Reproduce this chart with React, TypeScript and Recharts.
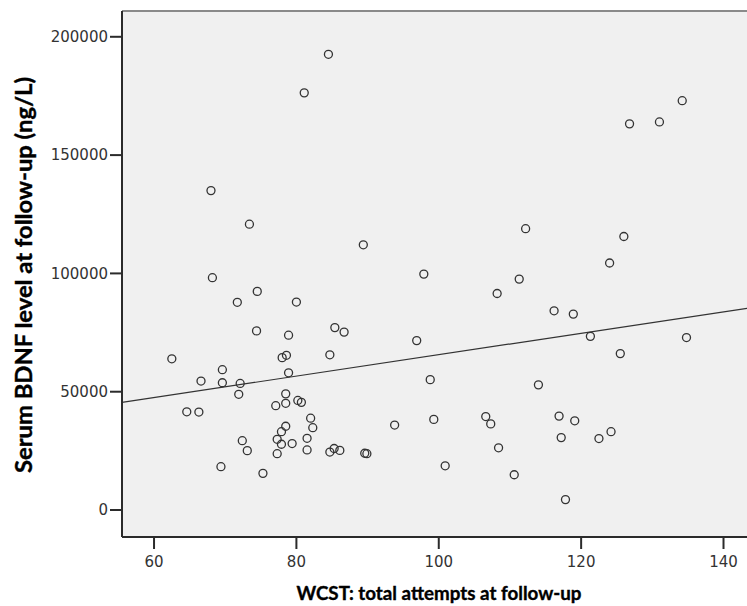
import React from 'react';
import {
  ScatterChart, Scatter, XAxis, YAxis, CartesianGrid, ReferenceLine, Label,
} from 'recharts';

// WCST total attempts at follow-up (x) and serum BDNF in ng/L (y), one entry per subject
const wcstAttempts = [
  84.5, 81.1, 134.2, 126.8, 131.0, 68.0, 73.4, 112.2, 126.0, 89.4,
  124.0, 68.2, 97.9, 111.3, 74.5, 108.2, 71.7, 80.0, 116.2, 118.9,
  74.4, 85.4, 86.7, 78.9, 96.9, 121.3, 134.8, 62.5, 84.7, 125.5,
  78.0, 78.6, 69.6, 78.9, 66.6, 69.6, 72.1, 98.8, 114.0, 71.9,
  78.5, 80.2, 80.7, 78.5, 77.1, 64.6, 66.3, 82.0, 106.6, 107.3,
  99.3, 116.9, 119.1, 93.8, 82.3, 78.5, 77.9, 124.2, 77.3, 72.4,
  81.5, 117.2, 122.5, 77.9, 79.4, 73.1, 81.5, 85.3, 86.1, 84.7,
  77.3, 89.6, 89.9, 108.4, 69.4, 100.9, 75.3, 110.6, 117.8,
];
const bdnfLevel = [
  192600, 176300, 173000, 163200, 164000, 135000, 120800, 118900, 115600, 112100,
  104400, 98200, 99700, 97600, 92400, 91500, 87800, 87900, 84200, 82800,
  75700, 77100, 75200, 73900, 71600, 73400, 72900, 63900, 65600, 66100,
  64400, 65400, 59300, 58000, 54500, 53800, 53500, 55100, 52900, 48900,
  49100, 46300, 45500, 45100, 44100, 41500, 41400, 38800, 39500, 36400,
  38300, 39700, 37700, 35900, 34800, 35400, 33100, 33100, 29900, 29300,
  30300, 30600, 30200, 27800, 28100, 25100, 25400, 26000, 25200, 24500,
  23800, 24000, 23800, 26300, 18300, 18700, 15500, 14900, 4400,
];

// fitted regression line, read at the two edges of the plot
const fitX = [55.5, 143.3];
const fitY = [45500, 85250];

const xTicks = [60, 80, 100, 120, 140];
const yTicks = [0, 50000, 100000, 150000, 200000];
const xDomain = [55.5, 143.3];
const yDomain = [-11400, 210900];

const points = wcstAttempts.map((x, i) => ({ x, y: bdnfLevel[i] }));

const axisColor = '#2b2b2b';
const tickFont = { fontFamily: '"DejaVu Sans", sans-serif', fontSize: 15, fill: '#333' };
const titleFont = '"Lato", "Noto Sans", sans-serif';

const OpenCircle = (props: any) => (
  <circle cx={props.cx} cy={props.cy} r={4} fill="none" stroke="#333" strokeWidth={1.3} />
);

export default function App() {
  return (
    <div style={{ position: 'absolute', left: 0, top: 0, width: 747, height: 606, background: '#fff' }}>
      <ScatterChart width={747} height={606} margin={{ top: 11, right: 0, bottom: 29, left: 0 }}>
        <CartesianGrid horizontal={false} vertical={false} fill="#f0f0f0" />
        <XAxis
          type="number"
          dataKey="x"
          domain={xDomain}
          ticks={xTicks}
          allowDataOverflow
          height={40}
          tickSize={12}
          tickMargin={7}
          axisLine={{ stroke: axisColor, strokeWidth: 2 }}
          tickLine={{ stroke: axisColor, strokeWidth: 2 }}
          tick={tickFont}
        >
          <Label
            content={() => (
              <text
                x={439}
                y={600}
                textAnchor="middle"
                textLength={285}
                lengthAdjust="spacingAndGlyphs"
                fontFamily={titleFont}
                fontWeight={700}
                fontSize={18}
                fill="#000"
                stroke="#000"
                strokeWidth={0.35}
              >
                WCST: total attempts at follow-up
              </text>
            )}
          />
        </XAxis>
        <YAxis
          type="number"
          dataKey="y"
          domain={yDomain}
          ticks={yTicks}
          allowDataOverflow
          width={122}
          tickSize={12}
          tickMargin={2}
          axisLine={{ stroke: axisColor, strokeWidth: 2 }}
          tickLine={{ stroke: axisColor, strokeWidth: 2 }}
          tick={tickFont}
        >
          <Label
            content={() => (
              <text
                x={32}
                y={275}
                transform="rotate(-90 32 275)"
                textAnchor="middle"
                textLength={396}
                lengthAdjust="spacingAndGlyphs"
                fontFamily={titleFont}
                fontWeight={700}
                fontSize={23}
                fill="#000"
                stroke="#000"
                strokeWidth={0.4}
              >
                Serum BDNF level at follow-up (ng/L)
              </text>
            )}
          />
        </YAxis>
        <ReferenceLine y={yDomain[1]} stroke="#8a8a8a" strokeWidth={2} />
        <ReferenceLine
          segment={[{ x: fitX[0], y: fitY[0] }, { x: fitX[1], y: fitY[1] }]}
          stroke="#333"
          strokeWidth={1.2}
        />
        <Scatter data={points} shape={OpenCircle} isAnimationActive={false} />
      </ScatterChart>
    </div>
  );
}
